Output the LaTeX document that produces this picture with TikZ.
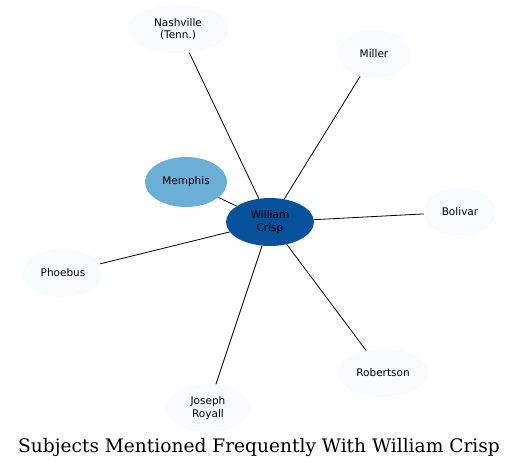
\documentclass[tikz,border=0pt]{standalone}
\usepackage{fontspec}
\setmainfont{DejaVu Sans}
\newfontfamily\titlefont{DejaVu Serif}
\usetikzlibrary{shapes.geometric}
\definecolor{lightnode}{HTML}{F7FBFF}
\definecolor{midnode}{HTML}{6BAED6}
\definecolor{darknode}{HTML}{08519C}
\begin{document}
\begin{tikzpicture}[x=1pt,y=-1pt,
  ent/.style={ellipse,fill=lightnode,inner sep=0pt,minimum height=48pt,
    font=\fontsize{10.5}{12.3}\selectfont,align=center},
  edge/.style={draw=black,line width=0.8pt}]
\useasboundingbox (0,0) rectangle (520,469);
\node[ent,fill=darknode,minimum width=88pt] (wc) at (270,222) {William\\Crisp};
\node[ent,fill=midnode,minimum width=82pt,minimum height=50pt] (mem) at (186,182) {Memphis};
\node[ent,minimum width=102pt] (nash) at (178,29) {Nashville\\(Tenn.)};
\node[ent,minimum width=72pt] (mil) at (374,54) {Miller};
\node[ent,minimum width=72pt] (bol) at (460,212) {Bolivar};
\node[ent,minimum width=80pt] (pho) at (63,273) {Phoebus};
\node[ent,minimum width=90pt] (rob) at (383,373) {Robertson};
\node[ent,minimum width=84pt] (jr) at (208,408) {Joseph\\Royall};
\foreach \n in {mem,nash,mil,bol,pho,rob,jr} \draw[edge] (wc) -- (\n);
\node[font=\titlefont\fontsize{18.6}{22}\selectfont] (title) at (259,447) {Subjects Mentioned Frequently With William Crisp};
\end{tikzpicture}
\end{document}
